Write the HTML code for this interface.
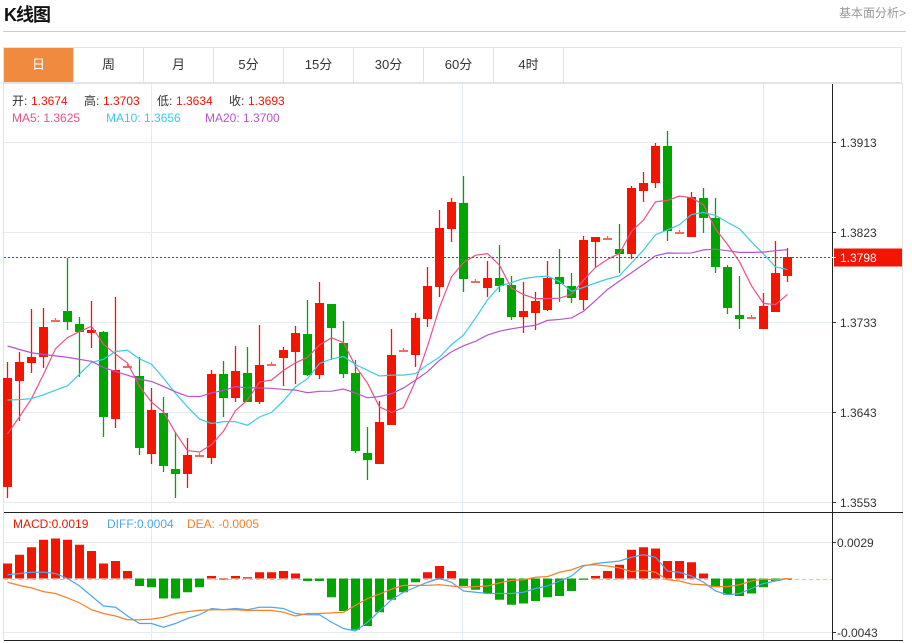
<!DOCTYPE html>
<html><head><meta charset="utf-8">
<style>
body{margin:0;background:#fff;width:912px;height:643px;overflow:hidden;font-family:"Liberation Sans","Noto Sans CJK SC",sans-serif;}
#title{position:absolute;left:4px;top:1px;font-size:18px;font-weight:bold;color:#111;letter-spacing:-1px}
#more{position:absolute;right:6px;top:4px;font-size:12px;color:#999}
#hr{position:absolute;left:3px;top:31px;width:903px;height:1px;background:#ccc}
#tabs{position:absolute;left:3px;top:47px;width:899px;height:36px;border:1px solid #e3e3e3;box-sizing:border-box;display:flex}
.tab{width:70px;height:34px;border-right:1px solid #e3e3e3;font-size:13px;color:#333;text-align:center;line-height:34px;box-sizing:border-box}
.tab.on{background:#f08a3e;color:#fff}
svg{position:absolute;left:0;top:0}
</style></head><body>
<div id="title">K线图</div>
<div id="more">基本面分析&gt;</div>
<div id="hr"></div>
<div id="tabs">
<div class="tab on">日</div>
<div class="tab">周</div>
<div class="tab">月</div>
<div class="tab">5分</div>
<div class="tab">15分</div>
<div class="tab">30分</div>
<div class="tab">60分</div>
<div class="tab">4时</div>
</div>
<svg id="chart" width="912" height="643"></svg>
<script>
const opens=[13568,13674,13692,13698,13735,13744,13731,13722,13723,13636,13689,13679,13601,13642,13586,13581,13600,13597,13681,13657,13682,13653,13691,13697,13703,13721,13680,13751,13712,13682,13602,13591,13630,13705,13700,13736,13768,13826,13852,13774,13767,13777,13770,13738,13742,13745,13778,13769,13755,13813,13817,13806,13801,13864,13872,13909,13823,13818,13857,13837,13788,13740,13738,13726,13743,13779].map(v=>v/10000);
const closes=[13677,13693,13698,13728,13735,13733,13723,13725,13638,13685,13689,13607,13645,13589,13581,13600,13600,13681,13657,13684,13653,13690,13691,13705,13722,13680,13752,13727,13681,13604,13595,13633,13700,13705,13737,13769,13827,13853,13776,13774,13777,13769,13738,13744,13754,13777,13771,13757,13815,13818,13817,13801,13867,13872,13909,13824,13823,13858,13837,13788,13747,13736,13738,13749,13782,13798].map(v=>v/10000);
const highs=[13693,13703,13746,13747,13737,13797,13738,13754,13724,13758,13691,13698,13667,13658,13623,13617,13602,13685,13694,13709,13708,13730,13693,13708,13729,13755,13773,13751,13734,13695,13628,13654,13726,13707,13742,13788,13845,13857,13879,13776,13794,13810,13779,13773,13763,13794,13806,13782,13819,13818,13819,13831,13869,13883,13912,13924,13825,13863,13867,13857,13790,13779,13740,13762,13814,13807].map(v=>v/10000);
const lows=[13557,13634,13682,13687,13733,13725,13678,13707,13618,13627,13687,13600,13591,13583,13557,13567,13598,13591,13638,13653,13653,13651,13689,13669,13671,13679,13676,13695,13677,13602,13575,13591,13630,13703,13688,13728,13758,13813,13763,13772,13758,13763,13735,13722,13725,13744,13753,13752,13745,13788,13815,13782,13796,13853,13867,13814,13821,13818,13822,13782,13741,13726,13736,13726,13743,13773].map(v=>v/10000);
const priorCloses=[13763,13763,13763,13763,13763,13763,13763,13763,13763,13763,13689,13689,13689,13689,13689,13607,13607,13607,13607].map(v=>v/10000);
const macdBars=[12,19,25,31,32,31,27,22,12,14,6,-6,-7,-16,-16,-11,-7,2,0,2,1,5,5,6,4,-2,-2,-15,-26,-41,-38,-27,-17,-11,-3,5,10,6,-6,-9,-12,-17,-21,-20,-18,-15,-14,-10,-1,2,6,11,23,25,24,14,14,13,4,-7,-13,-14,-12,-7,-2,0].map(v=>v/10000);
const diffs=[3,4,5,5,4,0,-6,-14,-22,-23,-30,-36,-36,-39,-36,-32,-29,-24,-25,-24,-25,-23,-23,-24,-28,-29,-29,-35,-40,-42,-35,-26,-17,-11,-7,-3,0,-3,-10,-11,-12,-12,-12,-11,-8,-6,-2,2,10,12,13,14,17,19,17,6,5,2,-3,-10,-13,-12,-8,-4,-2,0].map(v=>v/10000);
const priceTicks=[1.3913,1.3823,1.3733,1.3643,1.3553];
const macdTicks=[0.0029,-0.0043];
const lastPrice=1.3798;

const NS='http://www.w3.org/2000/svg';
const svg=document.getElementById('chart');
function mk(tag,attrs,parent){const e=document.createElementNS(NS,tag);for(const k in attrs)e.setAttribute(k,attrs[k]);(parent||svg).appendChild(e);return e;}
const RED='#f21500',GREEN='#00a500';
const xOf=i=>7.5+12*i;
const yP=p=>142+(1.3913-p)*10000;
const yM=v=>578.5-v*12500;

// frame
let f=mk('rect',{x:3.5,y:83.5,width:899,height:557,fill:'none',stroke:'#e3e3e3'});


// grids
[151,462,763].forEach(x=>{const g=mk('line',{x1:x+.5,x2:x+.5,y1:84,y2:640,stroke:'#e2ecf3'});

});
priceTicks.forEach(t=>{const y=Math.round(yP(t))+.5;
const g=mk('line',{x1:4,x2:832,y1:y,y2:y,stroke:'#e2ecf3'});


mk('line',{x1:832,x2:836,y1:y,y2:y,stroke:'#333'});
const tx=mk('text',{x:840,y:y+4.5,'font-size':12,fill:'#333'});tx.textContent=t.toFixed(4);

});
macdTicks.forEach(t=>{const y=Math.round(yM(t))+.5;
const g=mk('line',{x1:4,x2:832,y1:y,y2:y,stroke:'#e2ecf3'});


mk('line',{x1:832,x2:836,y1:y,y2:y,stroke:'#333'});
const tx=mk('text',{x:837,y:y+4.5,'font-size':12,fill:'#333'});tx.textContent=(t<0?'-':'')+Math.abs(t).toFixed(4);

});
// axis & separators
let ax=mk('line',{x1:832.5,x2:832.5,y1:84,y2:640,stroke:'#222'});


let sep=mk('line',{x1:4,x2:903,y1:512.5,y2:512.5,stroke:'#222'});


mk('line',{x1:4,x2:903,y1:640.5,y2:640.5,stroke:'#222'});
let zl=mk('line',{x1:4,x2:832,y1:Math.round(yM(0))+.5,y2:Math.round(yM(0))+.5,stroke:'#9ad8ee','stroke-dasharray':'4,3'});



// candles
for(let i=0;i<closes.length;i++){
 const up=closes[i]>opens[i],dj=closes[i]===opens[i];
 const col=dj?'#f26b5c':(up?RED:GREEN);const x=xOf(i);
 const g=mk('g',{});
 
 
 mk('line',{x1:x,x2:x,y1:yP(highs[i]),y2:yP(lows[i]),stroke:col,'stroke-width':1.3},g);
 const t=yP(Math.max(opens[i],closes[i])),b=yP(Math.min(opens[i],closes[i]));
 mk('rect',{x:x-4.5,y:t,width:9,height:Math.max(b-t,2),fill:col},g);
}
// MAs
const all=priorCloses.concat(closes);
function ma(n){return closes.map((c,i)=>{let s=0;const j=i+priorCloses.length;for(let k=j-n+1;k<=j;k++)s+=all[k];return s/n;});}
[[5,'#ec4f88','ma5-line'],[10,'#3ccbe2','ma10-line'],[20,'#b455c9','ma20-line']].forEach(([n,c,name])=>{
 const v=ma(n);const p=mk('polyline',{points:v.map((m,i)=>xOf(i)+','+yP(m)).join(' '),fill:'none',stroke:c,'stroke-width':1.2});
 
 
});
// last price line
const ly=Math.round(yP(lastPrice))+.5;
let pl=mk('line',{x1:4,x2:832,y1:ly,y2:ly,stroke:'#f21500','stroke-dasharray':'2,2'});


let lb=mk('rect',{x:834,y:ly-9,width:68,height:18,fill:'#f21500'});


let lt=mk('text',{x:840,y:ly+4.5,'font-size':12,fill:'#fff'});lt.textContent=lastPrice.toFixed(4);
mk('line',{x1:832,x2:836,y1:ly,y2:ly,stroke:'#fff'});

// MACD
const deas=diffs.map((d,i)=>d-macdBars[i]/2);
for(let i=0;i<macdBars.length;i++){
 const v=macdBars[i],y0=yM(0),y1=yM(v);
 const r=mk('rect',{x:xOf(i)-4.5,y:Math.min(y0,y1),width:9,height:Math.max(Math.abs(y1-y0),1),fill:v>=0?RED:GREEN});
 
 
}
let dl=mk('polyline',{points:diffs.map((d,i)=>xOf(i)+','+yM(d)).join(' '),fill:'none',stroke:'#4ea7ee','stroke-width':1.2});


let el=mk('polyline',{points:deas.map((d,i)=>xOf(i)+','+yM(d)).join(' '),fill:'none',stroke:'#f5822a','stroke-width':1.2});



// legends
function txt(x,y,s,c,name){const t=mk('text',{x:x,y:y,'font-size':12,fill:c});t.textContent=s;

return t;}
txt(12,105,'开:','#333','open-label');txt(31,105,'1.3674','#f21500','open-value');
txt(84,105,'高:','#333','high-label');txt(103,105,'1.3703','#f21500','high-value');
txt(157,105,'低:','#333','low-label');txt(176,105,'1.3634','#f21500','low-value');
txt(229,105,'收:','#333','close-label');txt(248,105,'1.3693','#f21500','close-value');
txt(12,122,'MA5: 1.3625','#ec4f88','ma5-legend');
txt(106,122,'MA10: 1.3656','#3ccbe2','ma10-legend');
txt(205,122,'MA20: 1.3700','#b455c9','ma20-legend');
txt(13,528,'MACD:0.0019','#f21500','macd-legend');
txt(107,528,'DIFF:0.0004','#4ea7ee','diff-legend');
txt(187,528,'DEA: -0.0005','#f5822a','dea-legend');
</script>
</body></html>
